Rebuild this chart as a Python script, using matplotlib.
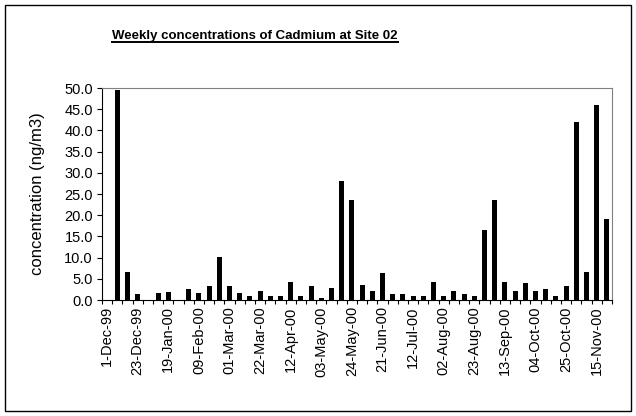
import matplotlib
matplotlib.use("Agg")
import matplotlib.pyplot as plt
from matplotlib.patches import Rectangle
from matplotlib.lines import Line2D
import numpy as np

plt.rcParams['font.family'] = ['Liberation Sans', 'DejaVu Sans']

# Weekly cadmium concentrations (ng/m3), 50 weekly samples, first week blank
values = [0.0, 49.6, 6.5, 1.3, 0.0, 1.7, 2.0, 0.0, 2.5, 1.7,
          3.2, 10.2, 3.2, 1.7, 1.0, 2.2, 1.0, 1.0, 4.3, 1.0,
          3.3, 0.4, 2.8, 28.1, 23.7, 3.6, 2.2, 6.3, 1.3, 1.3,
          1.0, 1.0, 4.3, 1.0, 2.2, 1.3, 1.0, 16.6, 23.7, 4.3,
          2.2, 4.0, 2.2, 2.5, 1.0, 3.3, 42.0, 6.5, 46.0, 19.2]

tick_labels = ["1-Dec-99", "23-Dec-99", "19-Jan-00", "09-Feb-00", "01-Mar-00",
               "22-Mar-00", "12-Apr-00", "03-May-00", "24-May-00", "21-Jun-00",
               "12-Jul-00", "02-Aug-00", "23-Aug-00", "13-Sep-00", "04-Oct-00",
               "25-Oct-00", "15-Nov-00"]
label_step = 3

title = "Weekly concentrations of Cadmium at Site 02"
ylabel = "concentration (ng/m3)"

W, H = 636, 416
fig = plt.figure(figsize=(W / 100, H / 100), dpi=100)

# plot area in pixels
x0, x1 = 102, 612
y_top, y_bot = 88, 300
ax = fig.add_axes([x0 / W, 1 - y_bot / H, (x1 - x0) / W, (y_bot - y_top) / H])

n = len(values)
x = np.arange(n)
ax.bar(x, values, width=0.5, color='black', zorder=3)

ax.set_xlim(-0.5, n - 0.5)
ax.set_ylim(0, 50)

# y axis
yt = np.arange(0, 50.1, 5)
ax.set_yticks(yt)
ax.set_yticklabels([f"{v:.1f}" for v in yt])
ax.tick_params(axis='y', direction='out', length=3.5, width=0.8, pad=3, labelsize=10.5, colors='black')

# x axis: major ticks at category boundaries, labels at category centres (minor)
ax.set_xticks(np.arange(-0.5, n, 1.0))
ax.set_xticklabels([])
ax.tick_params(axis='x', which='major', direction='out', length=3, width=0.8)
ax.set_xticks(x[::label_step], minor=True)
ax.set_xticklabels(tick_labels, minor=True, rotation=90, fontsize=10.5)
ax.tick_params(axis='x', which='minor', length=0, pad=4.5)

ax.set_ylabel(ylabel, fontsize=12)
ax.yaxis.set_label_coords((45 - x0) / (x1 - x0), 0.5)

for side in ['top', 'right']:
    ax.spines[side].set_color('#808080')
    ax.spines[side].set_linewidth(0.8)
for side in ['left', 'bottom']:
    ax.spines[side].set_color('black')
    ax.spines[side].set_linewidth(0.8)

# title with underline
tx, ty = 255 / W, 1 - 36 / H
t = fig.text(tx, ty, title, ha='center', va='center', fontsize=9.5, fontweight='bold')
fig.canvas.draw()
bb = t.get_window_extent(renderer=fig.canvas.get_renderer())
inv = fig.transFigure.inverted()
(bx0, by0), (bx1, by1) = inv.transform([[bb.x0, bb.y0], [bb.x1, bb.y1]])
fig.add_artist(Line2D([bx0, bx1], [by0 - 0.001, by0 - 0.001], color='black', linewidth=1.4,
                      transform=fig.transFigure))

# outer border
fig.add_artist(Rectangle((5 / W, 1 - 411 / H), 626 / W, 406 / H, fill=False,
                         edgecolor='black', linewidth=1.0, transform=fig.transFigure))

fig.savefig("out.png", dpi=100)
